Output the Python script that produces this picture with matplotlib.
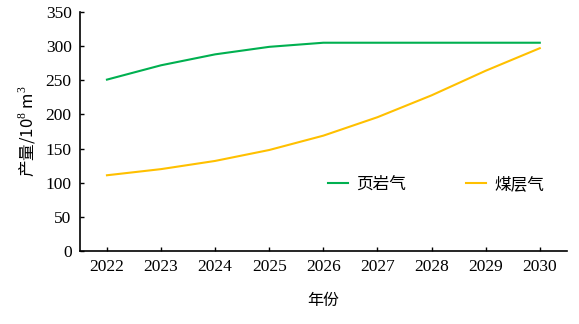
import matplotlib
matplotlib.use("Agg")
from matplotlib import pyplot as plt

years = ["2022", "2023", "2024", "2025", "2026", "2027", "2028", "2029", "2030"]
shale_gas = [251, 272, 288, 299, 305, 305, 305, 305, 305]
cbm_gas = [111, 120, 132, 148, 169, 196, 228, 264, 297]

plt.rcParams['font.family'] = ['Liberation Serif', 'Noto Sans CJK SC']
plt.rcParams['mathtext.fontset'] = 'custom'
plt.rcParams['mathtext.rm'] = 'Liberation Serif'

fig = plt.figure(figsize=(5.79, 3.24), dpi=100)
ax = fig.add_axes([0.138, 0.225, 0.841, 0.738])

x = list(range(len(years)))
ax.plot(x, shale_gas, '-', color="#00b050", lw=1.5, label="页岩气")
ax.plot(x, cbm_gas, '-', color="#ffc000", lw=1.5, label="煤层气")

ax.set_xlim(-0.5, len(years) - 0.5)
ax.set_ylim(0, 350)
ax.set_xticks(x)
ax.set_xticklabels(years)
ax.set_yticks(range(0, 351, 50))
ax.tick_params(direction='in', length=3, width=1, labelsize=12.5, pad=6)
for side in ("top", "right"):
    ax.spines[side].set_visible(False)
for side in ("left", "bottom"):
    ax.spines[side].set_linewidth(1.2)

cjk = ['Noto Sans CJK SC', 'Liberation Serif']
ax.set_xlabel("年份", fontsize=11.5, family=cjk, labelpad=12)
ax.set_ylabel("产量/10$^{8}$ m$^{3}$", fontsize=12, family=cjk, labelpad=6)

ax.legend(loc='center', bbox_to_anchor=(0.731, 0.28), ncol=2, frameon=False,
          handlelength=1.2, handletextpad=0.5, columnspacing=3.6,
          prop={'family': cjk, 'size': 12})

fig.savefig("out.png", dpi=100)
